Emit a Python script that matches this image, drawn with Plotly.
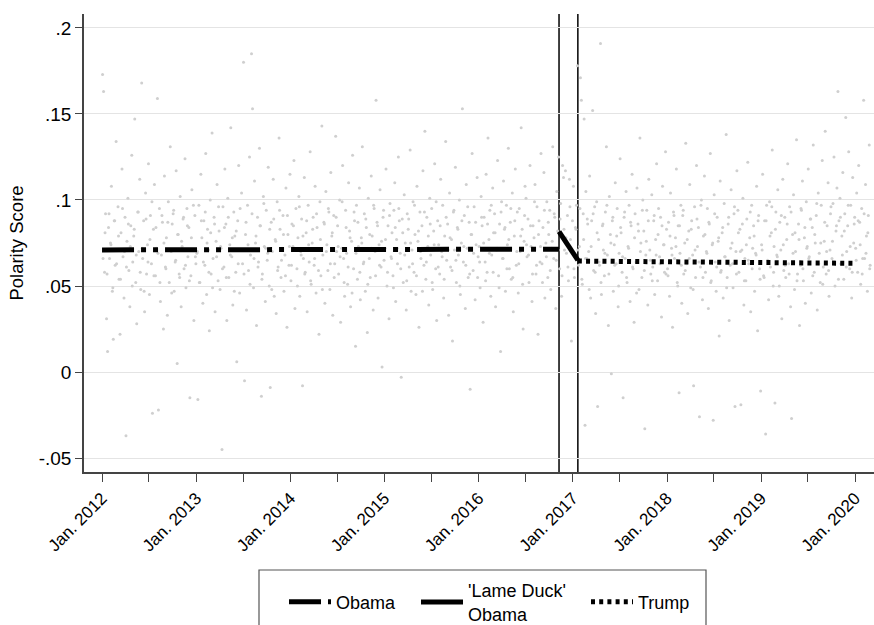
import calendar
import datetime as dt
import plotly.graph_objects as go

# ---------------- data (in thousandths) -------------
# set A: 8 observations per month
polarity_2012 = """173 163 58 92 31 12 84 66 75 108 47 19 88 62 134 71 96 54 22 81 118 67 43 90
-37 76 101 59 38 85 126 64 79 147 52 28 93 70 112 48 168 66 88 35 104 57 74 121
45 91 63 -24 83 109 56 72 159 -22 95 41 68 87 25 114 61 78 33 99 52 131 70 86
92 47 64 117 5 80 57 102 38 73 89 60 124 49 95 67 84 -15 56 106 71 30 91 63"""
polarity_2013 = """69 -16 97 52 115 78 40 88 62 127 45 83 71 24 100 57 139 66 90 35 76 109 53 82
48 72 -45 96 61 118 86 30 101 55 74 142 67 39 93 79 58 6 88 120 46 71 104 63
180 -5 80 36 97 59 125 68 185 153 49 111 75 27 90 64 130 85 -14 57 102 73 41 94
65 119 50 -9 87 70 112 44 77 34 99 61 136 83 55 72 91 47 68 107 26 80 62 115"""
polarity_2014 = """53 86 73 123 37 95 60 78 102 44 70 89 -8 66 113 58 81 35 97 64 128 51 75 90
62 108 46 84 71 22 99 56 143 68 87 40 105 74 59 93 48 116 79 33 91 63 137 70
85 57 100 29 72 120 66 44 94 69 51 110 82 38 76 126 60 88 15 97 54 73 107 42
78 131 63 92 47 84 23 101 66 55 114 79 36 95 70 158 87 43 74 106 61 3 90 65"""
polarity_2015 = """72 118 50 85 31 98 67 81 56 94 110 41 77 63 125 88 69 -3 89 52 103 75 36 92
83 61 129 47 71 99 58 80 45 108 76 26 93 66 85 117 62 140 54 90 73 39 101 68
95 48 82 121 60 30 88 74 57 112 70 97 43 79 134 65 86 33 104 61 77 18 93 71
119 52 84 68 100 45 75 153 64 91 37 109 72 55 87 -10 80 127 59 96 42 74 113 67"""
polarity_2016 = """73 49 102 85 29 90 64 115 58 136 77 94 44 68 107 81 92 38 71 123 56 86 12 99
66 111 83 47 97 74 130 60 87 54 104 35 79 118 62 93 46 95 70 142 83 25 76 108
101 67 89 52 120 73 41 85 78 109 57 96 22 88 64 127 63 84 116 43 75 99 55 80
94 48 72 131 66 90 37 105 82 125 60 98 44 120 113 71 117 69 91 53 112 77 18 88"""
polarity_2017 = """108 55 84 97 178 62 73 171 158 51 92 147 -31 105 66 86 70 114 43 88 152 59 96 34
99 -20 77 62 191 45 85 71 56 93 131 68 27 102 80 -1 88 47 74 110 63 95 38 69
124 81 58 -15 90 66 105 52 73 97 41 85 115 60 29 92 64 107 86 48 136 75 55 100
82 -33 68 94 39 112 71 57 103 61 88 45 77 121 53 95 67 90 32 108 74 58 128 83"""
polarity_2018 = """60 87 44 104 72 26 93 66 78 118 52 85 -12 69 97 40 91 57 75 133 63 34 82 109
49 88 68 -8 96 55 120 73 84 -26 61 100 42 79 114 58 70 95 37 86 127 53 74 -28
103 64 47 90 76 21 111 59 81 43 98 67 138 55 86 30 62 106 75 49 92 -20 70 117
94 58 83 -19 71 101 39 66 53 89 122 63 78 35 97 72 85 47 69 108 24 91 60 -11"""
polarity_2019 = """74 115 56 88 -36 97 65 42 99 61 81 129 50 73 -18 93 68 106 44 87 71 31 112 59
90 55 77 121 63 96 38 -27 80 103 48 70 135 57 86 27 62 94 111 53 78 40 99 73
118 67 89 46 84 132 58 75 91 36 104 69 52 97 123 61 76 140 57 85 110 44 71 96
66 98 125 50 82 107 163 88 101 63 79 116 54 92 148 70 85 128 60 97 43 113 75 90"""
polarity_2020 = """72 104 58 120 87 51 95 66 158 66 109 79 47 91 132 62"""

# set B: 4 further observations per month (the dense core of the cloud)
polarity_2012b = """66 81 57 92 74 49 88 63 79 54 95 70 61 86 73 50 83 68 93 58 72 47 89 64
77 99 56 84 69 52 91 75 60 87 71 46 94 65 80 55 76 90 62 85 53 78 97 67"""
polarity_2013b = """70 52 88 64 93 75 58 81 49 86 67 96 73 60 84 55 90 68 78 47 82 63 95 71
57 87 74 51 92 66 79 61 85 54 98 72 69 83 48 89 76 59 94 65 80 56 91 73"""
polarity_2014b = """62 85 71 50 96 68 79 57 88 74 53 83 66 92 59 77 48 86 70 95 63 81 55 90
73 67 99 52 84 61 78 46 93 69 87 58 75 64 89 51 80 72 97 56 85 62 76 94"""
polarity_2015b = """77 58 91 66 49 84 72 95 60 81 68 53 89 75 63 97 56 82 70 47 93 64 79 86
52 74 99 61 85 67 54 90 71 78 59 94 65 83 50 88 73 62 96 57 80 69 87 55"""
polarity_2016b = """64 90 75 53 86 69 97 58 81 72 49 93 66 84 60 77 95 55 88 70 63 79 51 91
74 68 85 57 99 62 80 73 52 94 67 87 59 76 92 65 71 89 56 83 78 61 96 70"""
polarity_2017b = """60 83 71 95 54 77 66 89 48 73 92 58 81 64 52 86 69 97 57 75 90 62 79 50
84 67 93 55 72 87 61 78 46 82 70 94 59 76 88 65 53 91 68 80 63 85 74 57"""
polarity_2018b = """56 79 68 91 73 50 85 62 94 59 77 66 83 48 71 89 64 97 55 80 69 87 52 75
92 61 78 58 84 67 49 90 72 63 96 57 81 70 86 53 74 65 93 60 79 68 88 54"""
polarity_2019b = """71 55 88 64 79 96 58 83 67 50 91 74 62 86 57 93 69 81 53 77 95 60 84 72
66 89 56 80 98 63 75 51 87 70 59 92 76 64 85 54 90 68 82 61 97 73 58 86"""
polarity_2020b = """65 88 74 57 92 69 81 60"""

# fitted segments (dates, fitted polarity)
obama_dates = ["2012-01-01", "2016-11-08"]
obama_fit = [0.0710, 0.0714]
lameduck_dates = ["2016-11-08", "2017-01-20"]
lameduck_fit = [0.0816, 0.0650]
trump_dates = ["2017-01-20", "2020-01-01"]
trump_fit = [0.0645, 0.0632]

election_date = "2016-11-08"
inauguration_date = "2017-01-20"

year_ticks = [f"{y}-01-01" for y in range(2012, 2021)]
year_labels = [f"Jan. {y}" for y in range(2012, 2021)]
mid_year_ticks = [f"{y}-07-01" for y in range(2011, 2021)]
y_ticks = [-0.05, 0, 0.05, 0.1, 0.15, 0.2]
y_labels = ["-.05", "0", ".05", ".1", ".15", ".2"]


# ---------------- build scatter positions ----------------
def place(year, txt, per_month, phase):
    xs, ys = [], []
    vals = [int(v) / 1000 for v in txt.split()]
    for i, v in enumerate(vals):
        month = i // per_month + 1
        k = i % per_month
        ndays = calendar.monthrange(year, month)[1]
        off = (k + phase) * ndays / per_month
        xs.append(dt.datetime(year, month, 1) + dt.timedelta(days=off))
        ys.append(v)
    return xs, ys


set_a = {2012: polarity_2012, 2013: polarity_2013, 2014: polarity_2014,
         2015: polarity_2015, 2016: polarity_2016, 2017: polarity_2017,
         2018: polarity_2018, 2019: polarity_2019, 2020: polarity_2020}
set_b = {2012: polarity_2012b, 2013: polarity_2013b, 2014: polarity_2014b,
         2015: polarity_2015b, 2016: polarity_2016b, 2017: polarity_2017b,
         2018: polarity_2018b, 2019: polarity_2019b, 2020: polarity_2020b}
sx, sy = [], []
for year, txt in set_a.items():
    a, b = place(year, txt, 8, 0.5)
    sx += a
    sy += b
for year, txt in set_b.items():
    a, b = place(year, txt, 4, 0.5)
    sx += a
    sy += b

FONT = "Liberation Sans, Arial, Helvetica, sans-serif"
fig = go.Figure()

fig.add_trace(go.Scatter(x=sx, y=sy, mode="markers", showlegend=False,
                         marker=dict(size=3, color="#cfcfcf", line=dict(width=0)),
                         hoverinfo="skip"))
fig.add_trace(go.Scatter(x=obama_dates, y=obama_fit, mode="lines", name="Obama",
                         legend="legend",
                         line=dict(color="black", width=5, dash="32px,7px,5px,7px,5px,7px")))
fig.add_trace(go.Scatter(x=lameduck_dates, y=lameduck_fit, mode="lines",
                         name="'Lame Duck'<br>Obama", legend="legend2",
                         line=dict(color="black", width=5)))
fig.add_trace(go.Scatter(x=trump_dates, y=trump_fit, mode="lines", name="Trump",
                         legend="legend3",
                         line=dict(color="black", width=5, dash="4px,4.2px")))

for d in [election_date, inauguration_date]:
    fig.add_shape(type="line", xref="x", yref="paper", x0=d, x1=d, y0=0, y1=1,
                  line=dict(color="#111111", width=1.6), layer="below")

# legend frame (extends past the bottom of the page as in the original)
fig.add_shape(type="rect", xref="paper", yref="paper",
              x0=(259 - 84) / 790, x1=(706 - 84) / 790,
              y0=(472 - 570) / 458, y1=(472 - 660) / 458,
              line=dict(color="#555555", width=1.2), fillcolor="rgba(0,0,0,0)")


def px_x(p):
    return (p - 84) / 790


def px_y(p):
    return (472 - p) / 458


leg_common = dict(orientation="h", xanchor="left", yanchor="middle",
                  y=px_y(602), font=dict(size=18, family=FONT), itemwidth=42,
                  bgcolor="rgba(0,0,0,0)", borderwidth=0)

fig.update_layout(
    width=874, height=625,
    margin=dict(l=84, r=0, t=14, b=153, autoexpand=False),
    plot_bgcolor="white", paper_bgcolor="white",
    font=dict(family=FONT, size=17, color="black"),
    legend=dict(x=px_x(284), **leg_common),
    legend2=dict(x=px_x(416), **leg_common),
    legend3=dict(x=px_x(586), **leg_common),
    xaxis=dict(type="date", range=["2011-10-23", "2020-03-14"],
               tickmode="array", tickvals=year_ticks, ticktext=year_labels,
               tickangle=-45, ticks="outside", ticklen=8, tickwidth=1.3,
               tickcolor="#444444", showgrid=False, zeroline=False,
               showline=True, linecolor="#444444", linewidth=1.5,
               tickfont=dict(size=17, family=FONT),
               minor=dict(tickmode="array", tickvals=mid_year_ticks, ticks="outside",
                          ticklen=8, tickwidth=1.3, tickcolor="#444444", showgrid=False)),
    yaxis=dict(range=[-0.0581, 0.2081], tickmode="array", tickvals=y_ticks,
               ticktext=y_labels, ticks="outside", ticklen=7, tickwidth=1.3,
               tickcolor="#444444", showgrid=True, gridcolor="#e4e4e4", gridwidth=1,
               zeroline=False, showline=True, linecolor="#444444", linewidth=1.5,
               tickfont=dict(size=19, family=FONT),
               title=dict(text="Polarity Score", font=dict(size=18.5, family=FONT),
                          standoff=10)),
)

fig.write_html("out.html")
